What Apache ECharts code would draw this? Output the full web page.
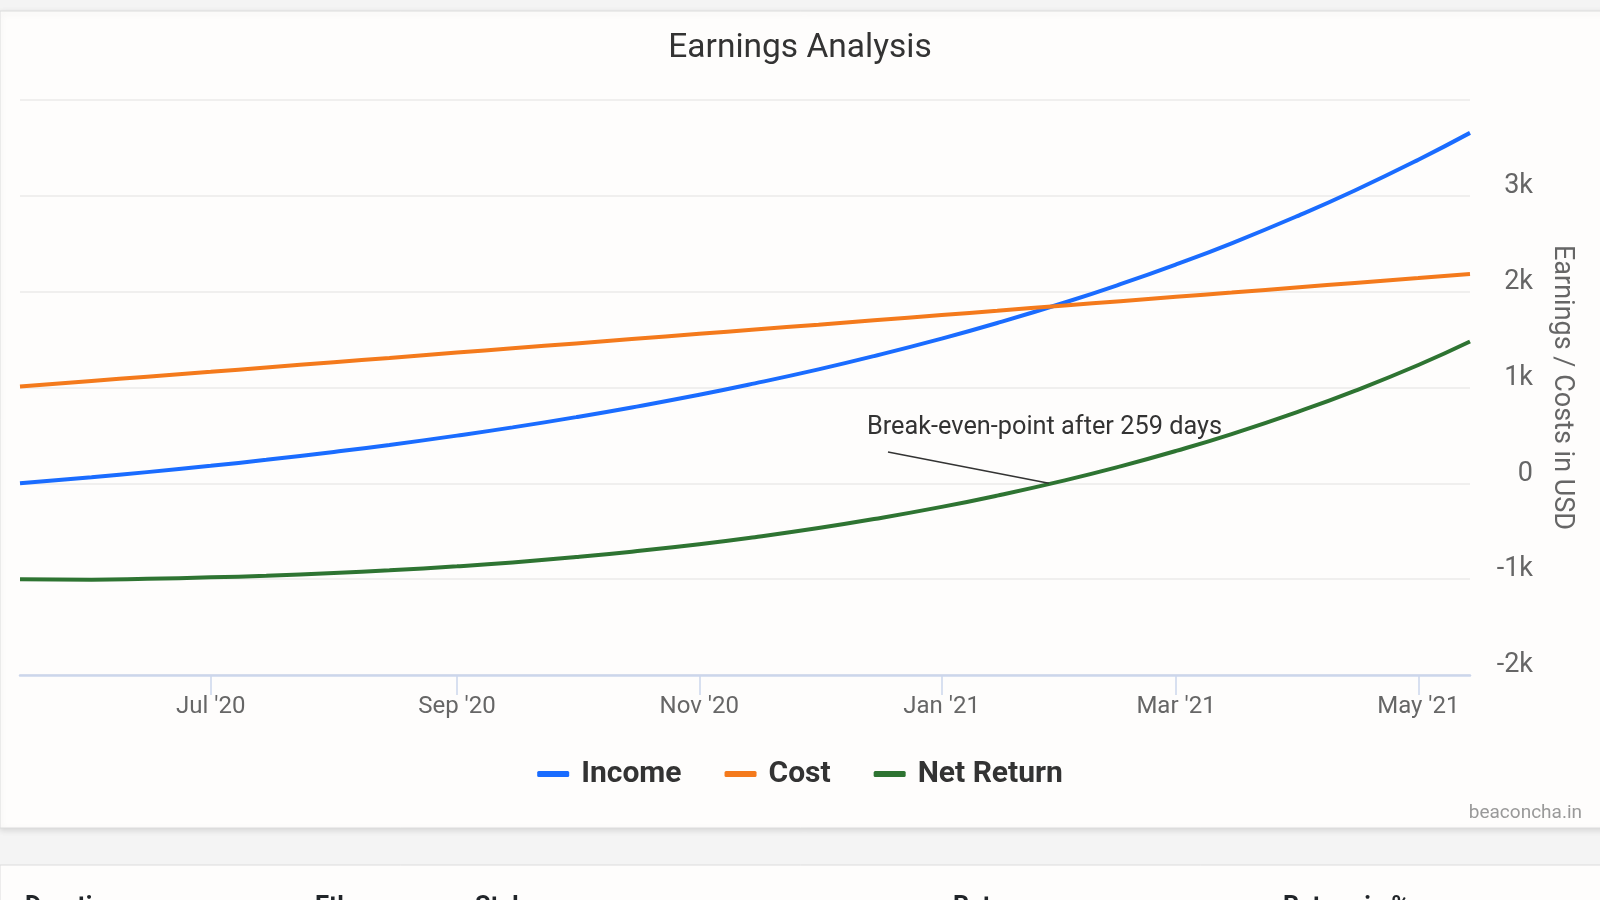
<!DOCTYPE html>
<html>
<head>
<meta charset="utf-8">
<script src="https://cdn.jsdelivr.net/npm/echarts@6/dist/echarts.min.js"></script>
<style>
  html, body { margin: 0; padding: 0; background: #f4f4f4; }
  #chart { width: 1600px; height: 900px; }
</style>
</head>
<body>
<div id="chart"></div>
<script>
// ---- data ----
const dates = ['2020-05-14','2020-06-01','2020-06-15','2020-07-01','2020-07-15','2020-08-01','2020-08-15',
  '2020-09-01','2020-09-15','2020-10-01','2020-10-15','2020-11-01','2020-11-15','2020-12-01','2020-12-15',
  '2021-01-01','2021-01-15','2021-02-01','2021-02-15','2021-03-01','2021-03-15','2021-04-01','2021-04-15',
  '2021-05-01','2021-05-14'];
const income = [0, 63, 117, 183, 245, 328, 401, 498, 584, 691, 792, 924, 1043, 1189, 1328,
  1510, 1673, 1887, 2078, 2284, 2505, 2797, 3056, 3377, 3657];
const cost = [1010, 1068, 1113, 1164, 1209, 1264, 1309, 1364, 1409, 1460, 1505, 1560, 1605, 1656, 1701,
  1756, 1801, 1856, 1901, 1946, 1991, 2046, 2091, 2142, 2184];
const netReturn = [-1000, -1005, -996, -981, -964, -936, -908, -866, -825, -769, -713, -636, -562, -467, -373,
  -246, -128, 31, 177, 338, 514, 751, 965, 1235, 1480];
const seriesNames = ['Income', 'Cost', 'Net Return'];
const xTickDates = ['2020-07-01','2020-09-01','2020-11-01','2021-01-01','2021-03-01','2021-05-01'];
const xTickLabels = ["Jul '20", "Sep '20", "Nov '20", "Jan '21", "Mar '21", "May '21"];
const yTickValues = [-2000, -1000, 0, 1000, 2000, 3000, 4000];
const yTickLabels = ['-2k', '-1k', '0', '1k', '2k', '3k', ''];
const breakEvenDate = '2021-01-28';
const breakEvenValue = 0;
const breakEvenText = 'Break-even-point after 259 days';
const tableHeaders = ['Duration', 'Eth', 'Stake', 'Return', 'Return in %'];

// ---- helpers ----
function toTime(s) { const p = s.split('-').map(Number); return Date.UTC(p[0], p[1] - 1, p[2]); }
const xTickTimes = xTickDates.map(toTime);
function pairs(vals) { return dates.map((d, i) => [toTime(d), vals[i]]); }

const colors = ['#1a6cff', '#f47a1c', '#2e7432'];
const headerX = [25, 315, 475, 953, 1283];

const chart = echarts.init(document.getElementById('chart'), null, { renderer: 'canvas' });
chart.setOption({
  animation: false,
  backgroundColor: '#f4f4f4',
  textStyle: { fontFamily: 'Roboto' },
  color: colors,
  title: {
    text: 'Earnings Analysis',
    left: 'center',
    top: 27,
    textStyle: { fontFamily: 'Roboto', fontSize: 33.5, fontWeight: 'normal', color: '#333333' }
  },
  legend: {
    top: 754,
    left: 'center',
    icon: 'roundRect',
    itemWidth: 32,
    itemHeight: 6,
    itemGap: 43,
    data: seriesNames,
    textStyle: { fontFamily: 'Roboto', fontSize: 30, fontWeight: 'bold', color: '#333333', padding: [0, 0, 0, 7] }
  },
  grid: { left: 20, right: 130, top: 100, bottom: 225, containLabel: false, outerBoundsMode: 'none' },
  xAxis: {
    type: 'value',
    min: toTime(dates[0]),
    max: toTime(dates[dates.length - 1]),
    axisLine: { show: true, onZero: false, lineStyle: { color: '#ccd6eb', width: 2.5 } },
    axisTick: { show: true, customValues: xTickTimes, length: 20, lineStyle: { color: '#ccd6eb', width: 1.5 } },
    axisLabel: {
      customValues: xTickTimes,
      margin: 20,
      fontSize: 24,
      color: '#666666',
      fontFamily: 'Roboto',
      formatter: function (v) {
        const i = xTickTimes.indexOf(v);
        return i >= 0 ? xTickLabels[i] : '';
      }
    },
    splitLine: { show: false }
  },
  yAxis: {
    type: 'value',
    position: 'right',
    min: -2000,
    max: 4000,
    interval: 1000,
    name: 'Earnings / Costs in USD',
    nameLocation: 'middle',
    nameRotate: -90,
    nameGap: 78,
    nameTextStyle: { fontFamily: 'Roboto', fontSize: 27, color: '#666666' },
    axisLine: { show: false },
    axisTick: { show: false },
    axisLabel: {
      fontSize: 27,
      fontFamily: 'Roboto',
      color: '#666666',
      align: 'right',
      verticalAlign: 'bottom',
      lineHeight: 19,
      margin: 63,
      formatter: function (v) {
        const i = yTickValues.indexOf(v);
        return i >= 0 ? yTickLabels[i] : '';
      }
    },
    splitLine: { show: true, lineStyle: { color: '#f0efee', width: 2 } }
  },
  series: [
    {
      name: seriesNames[0], type: 'line', data: pairs(income), smooth: true, showSymbol: false,
      lineStyle: { width: 4, color: colors[0] }, itemStyle: { color: colors[0] }, emphasis: { disabled: true }
    },
    {
      name: seriesNames[1], type: 'line', data: pairs(cost), smooth: true, showSymbol: false,
      lineStyle: { width: 4, color: colors[1] }, itemStyle: { color: colors[1] }, emphasis: { disabled: true }
    },
    {
      name: seriesNames[2], type: 'line', data: pairs(netReturn), smooth: true, showSymbol: false,
      lineStyle: { width: 4, color: colors[2] }, itemStyle: { color: colors[2] }, emphasis: { disabled: true },
      markLine: {
        silent: true,
        symbol: ['none', 'none'],
        label: { show: false },
        lineStyle: { color: '#333333', width: 1.5, type: 'solid' },
        data: [[{ coord: [toTime(breakEvenDate), breakEvenValue] }, { x: 888, y: 452 }]]
      }
    }
  ],
  graphic: [
    { type: 'rect', z: -10, silent: true, shape: { x: 0, y: 11, width: 1640, height: 817 },
      style: { fill: '#fefdfc', stroke: '#dcdcdc', lineWidth: 1, shadowBlur: 6, shadowColor: 'rgba(0,0,0,0.12)', shadowOffsetY: 2 } },
    { type: 'rect', z: -10, silent: true, shape: { x: 0, y: 865, width: 1640, height: 60 },
      style: { fill: '#fefdfc', stroke: '#dcdcdc', lineWidth: 1 } },
    { type: 'text', z: 10, silent: true, x: 867, y: 428,
      style: { text: breakEvenText, fontFamily: 'Roboto', fontSize: 25.3, fill: '#333333', align: 'left', verticalAlign: 'middle' } },
    { type: 'text', z: 10, silent: true, x: 1582, y: 813,
      style: { text: 'beaconcha.in', fontFamily: 'Roboto', fontSize: 19, fill: '#999999', align: 'right', verticalAlign: 'middle' } }
  ].concat(tableHeaders.map((t, i) => ({
    type: 'text', z: 10, silent: true, x: headerX[i], y: 895,
    style: { text: t, fontFamily: 'Roboto', fontSize: 25, fontWeight: 'bold', fill: '#212529', align: 'left', verticalAlign: 'top' }
  })))
});
</script>
</body>
</html>
